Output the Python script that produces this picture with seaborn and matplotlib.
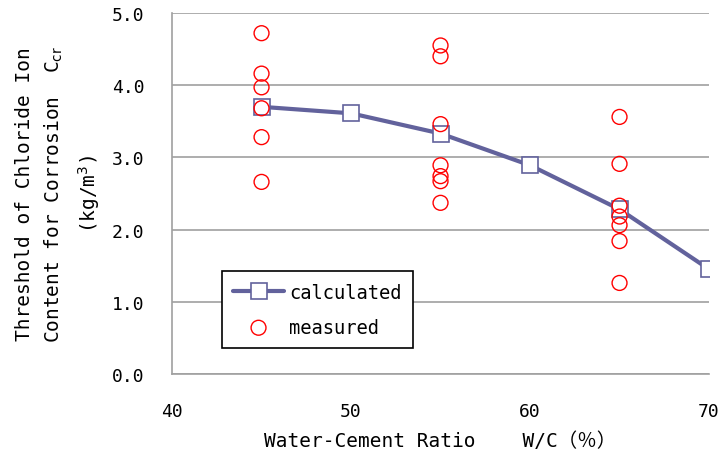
import pandas as pd
import matplotlib
matplotlib.use("Agg")
import matplotlib.pyplot as plt
import seaborn as sns

# calculated threshold vs W/C
calc_wc = [45, 50, 55, 60, 65, 70]
calc_ccr = [3.70, 3.61, 3.33, 2.89, 2.28, 1.45]

# measured values, grouped by W/C
meas_45 = [4.72, 4.16, 3.97, 3.68, 3.28, 2.66]
meas_55 = [4.55, 4.40, 3.46, 2.89, 2.74, 2.67, 2.37]
meas_65 = [3.56, 2.91, 2.33, 2.18, 2.06, 1.84, 1.26]

y_ticks = [0.0, 1.0, 2.0, 3.0, 4.0, 5.0]
x_ticks = [40, 50, 60, 70]

calc_df = pd.DataFrame({"wc": calc_wc, "ccr": calc_ccr})
meas_df = pd.DataFrame({
    "wc": [45] * len(meas_45) + [55] * len(meas_55) + [65] * len(meas_65),
    "ccr": meas_45 + meas_55 + meas_65,
})

sns.set_style("white")
plt.rcParams["font.family"] = ["DejaVu Sans Mono", "Noto Sans CJK JP"]
plt.rcParams["text.color"] = "black"
plt.rcParams["axes.labelcolor"] = "black"
plt.rcParams["xtick.labelcolor"] = "black"
plt.rcParams["ytick.labelcolor"] = "black"

fig = plt.figure(figsize=(7.21, 4.60), dpi=100)
ax = fig.add_axes([0.2386, 0.185, 0.7448, 0.7846])

line_col = "#62629c"
sns.lineplot(data=calc_df, x="wc", y="ccr", ax=ax, color=line_col, lw=3,
             marker="s", markersize=11, markerfacecolor="white",
             markeredgecolor=line_col, markeredgewidth=1.2, label="calculated",
             zorder=3)
sns.scatterplot(data=meas_df, x="wc", y="ccr", ax=ax, marker="o", s=115,
                facecolor="none", edgecolor="red", linewidth=1.0,
                label="measured", zorder=4)

ax.set_xlim(40, 70)
ax.set_ylim(0, 5)
ax.set_xticks(x_ticks)
ax.set_yticks(y_ticks)
ax.set_yticklabels([f"{v:.1f}" for v in y_ticks])
ax.yaxis.grid(True, color="#a0a0a0", lw=1.2)
ax.set_axisbelow(True)

for side in ["top", "right"]:
    ax.spines[side].set_visible(False)
for side in ["left", "bottom"]:
    ax.spines[side].set_color("#a0a0a0")
    ax.spines[side].set_linewidth(1.2)

ax.tick_params(axis="both", direction="in", length=5, color="#a0a0a0",
               labelsize=13)
ax.tick_params(axis="x", pad=20)
ax.tick_params(axis="y", pad=20)

ax.set_xlabel("Water-Cement Ratio    W/C\uff08\uff05\uff09", fontsize=14, labelpad=8)
ax.set_ylabel("Threshold of Chloride Ion\nContent for Corrosion  C$_{\\rm cr}$\n(kg/m$^3$)",
              fontsize=14, labelpad=7, linespacing=1.55)

leg = ax.legend(loc="lower left", bbox_to_anchor=(0.093, 0.072), fontsize=13.5,
                frameon=True, fancybox=False, edgecolor="black",
                handlelength=2.7, borderpad=0.6, labelspacing=0.85,
                handletextpad=0.3, borderaxespad=0)
leg.get_frame().set_linewidth(1.2)
leg.get_frame().set_alpha(1)

fig.savefig("out.png", dpi=100)
